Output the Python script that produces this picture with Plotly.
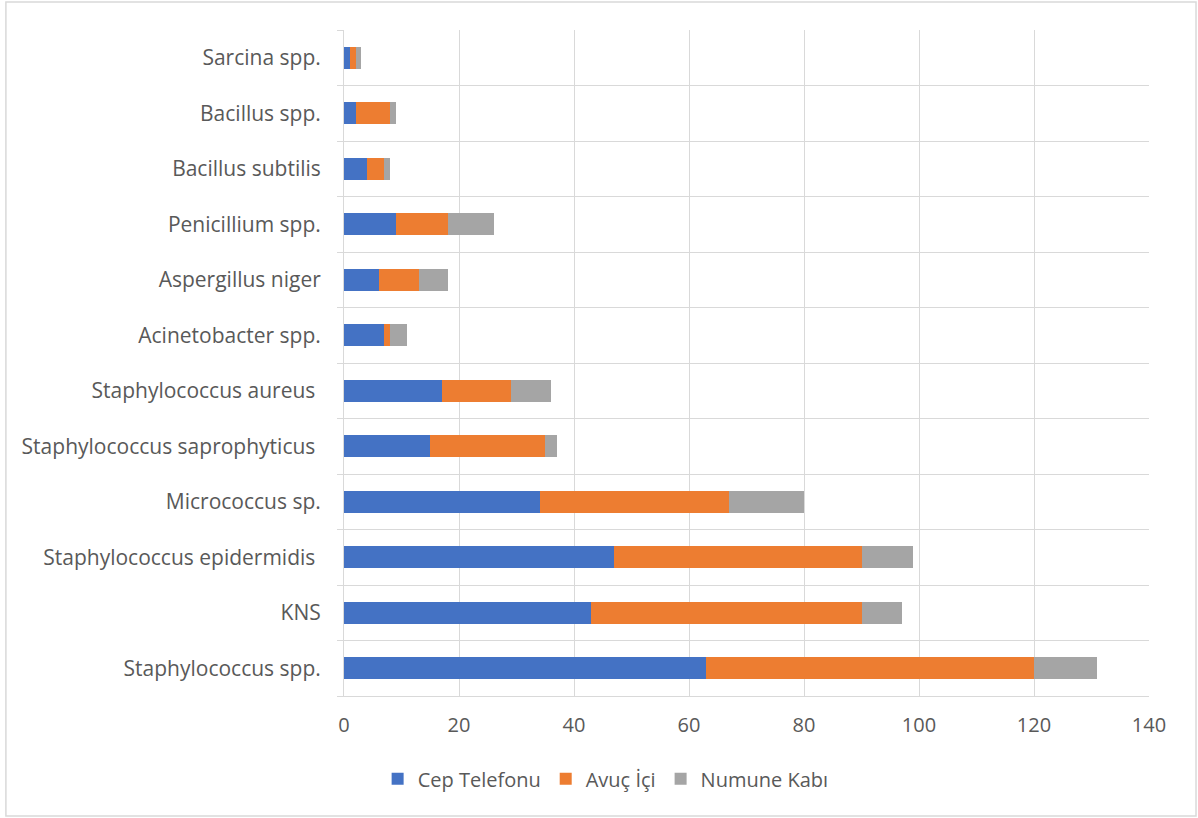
import plotly.graph_objects as go

# Microorganisms, listed bottom to top
organisms = [
    "Staphylococcus spp.",
    "KNS",
    "Staphylococcus epidermidis ",
    "Micrococcus sp.",
    "Staphylococcus saprophyticus ",
    "Staphylococcus aureus ",
    "Acinetobacter spp.",
    "Aspergillus niger",
    "Penicillium spp.",
    "Bacillus subtilis",
    "Bacillus spp.",
    "Sarcina spp.",
]

cep_telefonu = [63, 43, 47, 34, 15, 17, 7, 6, 9, 4, 2, 1]
avuc_ici = [57, 47, 43, 33, 20, 12, 1, 7, 9, 3, 6, 1]
numune_kabi = [11, 7, 9, 13, 2, 7, 3, 5, 8, 1, 1, 1]

series = [
    ("Cep Telefonu", cep_telefonu, "#4472C4"),
    ("Avuç İçi", avuc_ici, "#ED7D31"),
    ("Numune Kabı", numune_kabi, "#A5A5A5"),
]

x_ticks = [0, 20, 40, 60, 80, 100, 120, 140]

font_family = "'Open Sans', Lato, sans-serif"
text_color = "#595959"
grid_color = "#D9D9D9"

fig = go.Figure()
for name, values, color in series:
    fig.add_trace(go.Bar(
        y=organisms,
        x=values,
        name=name,
        orientation="h",
        marker=dict(color=color, line=dict(width=0)),
    ))

fig.update_layout(
    barmode="stack",
    bargap=0.6,
    width=1198,
    height=818,
    margin=dict(l=344, r=49, t=30, b=122),
    paper_bgcolor="white",
    plot_bgcolor="white",
    font=dict(family=font_family, size=20, color=text_color),
    xaxis=dict(
        range=[0, 140],
        tickvals=x_ticks,
        showgrid=True,
        gridcolor=grid_color,
        gridwidth=1,
        zeroline=False,
        showline=True,
        linecolor=grid_color,
        linewidth=1,
        ticks="",
        tickfont=dict(size=20, color=text_color),
        ticklabelstandoff=11,
    ),
    yaxis=dict(
        type="category",
        tickson="boundaries",
        showgrid=True,
        gridcolor=grid_color,
        gridwidth=1,
        ticks="outside",
        ticklen=6,
        tickcolor=grid_color,
        showline=True,
        linecolor=grid_color,
        linewidth=1,
        zeroline=False,
        tickfont=dict(size=21, color=text_color),
        ticklabelstandoff=18,
    ),
    legend=dict(
        orientation="h",
        x=0.325,
        xanchor="center",
        y=-0.095,
        yanchor="top",
        font=dict(size=20, color=text_color),
        traceorder="normal",
        itemwidth=30,
    ),
    shapes=[
        dict(
            type="rect",
            xref="paper", yref="paper",
            x0=-0.42, x1=1.0584, y0=-0.180, y1=1.042,
            line=dict(color=grid_color, width=1.5),
            fillcolor="rgba(0,0,0,0)",
            layer="below",
        )
    ],
)

fig.write_html("out.html")
